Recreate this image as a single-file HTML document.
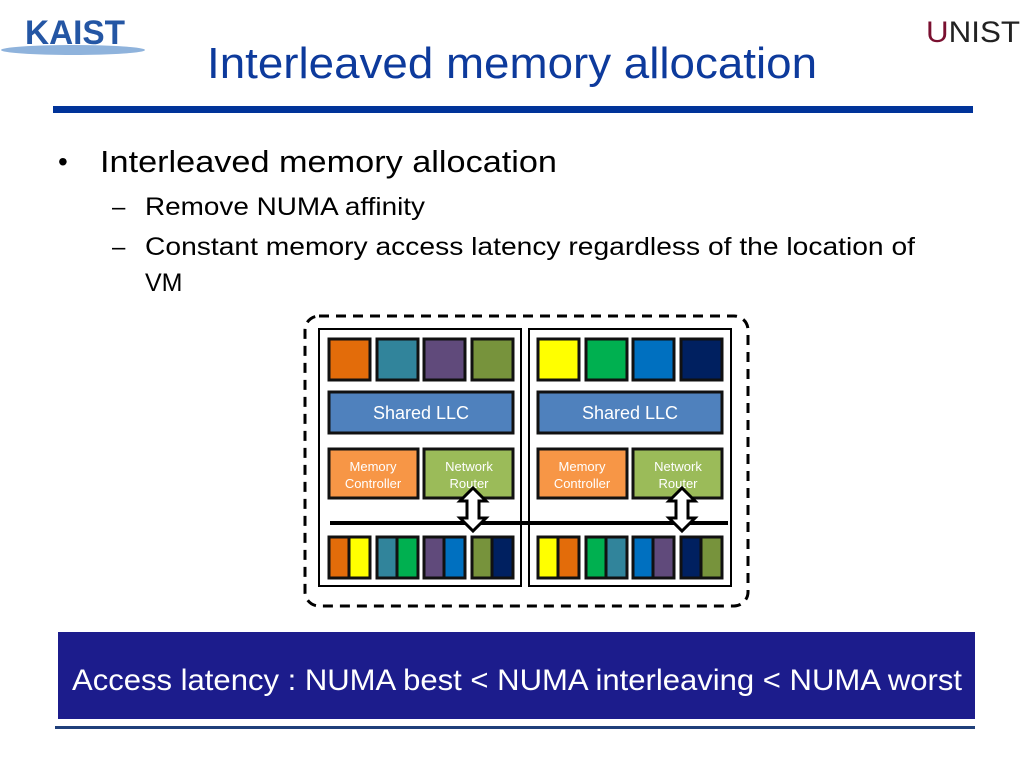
<!DOCTYPE html>
<html><head><meta charset="utf-8"><style>
html,body{margin:0;padding:0;background:#fff;width:1024px;height:768px;overflow:hidden}
svg text{font-family:"Liberation Sans",sans-serif}
</style></head><body>
<svg width="1024" height="768" viewBox="0 0 1024 768" xmlns="http://www.w3.org/2000/svg">
<!-- logos -->
<ellipse cx="73" cy="50" rx="72" ry="5" fill="#8fb3dc"/>
<text x="25" y="44" font-size="34" font-weight="bold" fill="#2456a4" textLength="100" lengthAdjust="spacingAndGlyphs">KAIST</text>
<text x="926" y="42" font-size="30" fill="#222" textLength="94" lengthAdjust="spacingAndGlyphs"><tspan fill="#7a1030">U</tspan>NIST</text>
<!-- title -->
<text x="207" y="78" font-size="44" fill="#0d3a9c" textLength="610" lengthAdjust="spacingAndGlyphs">Interleaved memory allocation</text>
<rect x="53" y="106" width="920" height="7" fill="#003399"/>
<!-- bullets -->
<text x="58" y="171" font-size="28" fill="#000">•</text>
<text x="100" y="172" font-size="31" fill="#000" textLength="457" lengthAdjust="spacingAndGlyphs">Interleaved memory allocation</text>
<text x="112" y="215" font-size="24" fill="#000">–</text>
<text x="145" y="215" font-size="25" fill="#000" textLength="280" lengthAdjust="spacingAndGlyphs">Remove NUMA affinity</text>
<text x="112" y="255" font-size="24" fill="#000">–</text>
<text x="145" y="255" font-size="25" fill="#000" textLength="770" lengthAdjust="spacingAndGlyphs">Constant memory access latency regardless of the location of</text>
<text x="145" y="291" font-size="25" fill="#000">VM</text>
<!-- diagram -->
<rect x="305" y="316" width="443" height="290" rx="14" fill="none" stroke="#000" stroke-width="3" stroke-dasharray="10,7"/>
<rect x="319" y="329" width="202" height="257" fill="#fff" stroke="#000" stroke-width="2"/>
<rect x="529" y="329" width="202" height="257" fill="#fff" stroke="#000" stroke-width="2"/>
<g stroke="#111" stroke-width="3">
<rect x="329" y="339" width="41" height="41" fill="#E36C0A"/>
<rect x="377" y="339" width="41" height="41" fill="#31849B"/>
<rect x="424" y="339" width="41" height="41" fill="#604A7B"/>
<rect x="472" y="339" width="41" height="41" fill="#77933C"/>
<rect x="538" y="339" width="41" height="41" fill="#FFFF00"/>
<rect x="586" y="339" width="41" height="41" fill="#00B050"/>
<rect x="633" y="339" width="41" height="41" fill="#0070C0"/>
<rect x="681" y="339" width="41" height="41" fill="#002060"/>
<rect x="329" y="392" width="184" height="41" fill="#4F81BD"/>
<rect x="538" y="392" width="184" height="41" fill="#4F81BD"/>
<rect x="329" y="449" width="89" height="49" fill="#F79646"/>
<rect x="424" y="449" width="89" height="49" fill="#9BBB59"/>
<rect x="538" y="449" width="89" height="49" fill="#F79646"/>
<rect x="633" y="449" width="89" height="49" fill="#9BBB59"/>
<!-- bottom -->
<rect x="329" y="537" width="20" height="41" fill="#E36C0A"/><rect x="349" y="537" width="21" height="41" fill="#FFFF00"/>
<rect x="377" y="537" width="20" height="41" fill="#31849B"/><rect x="397" y="537" width="21" height="41" fill="#00B050"/>
<rect x="424" y="537" width="20" height="41" fill="#604A7B"/><rect x="444" y="537" width="21" height="41" fill="#0070C0"/>
<rect x="472" y="537" width="20" height="41" fill="#77933C"/><rect x="492" y="537" width="21" height="41" fill="#002060"/>
<rect x="538" y="537" width="20" height="41" fill="#FFFF00"/><rect x="558" y="537" width="21" height="41" fill="#E36C0A"/>
<rect x="586" y="537" width="20" height="41" fill="#00B050"/><rect x="606" y="537" width="21" height="41" fill="#31849B"/>
<rect x="633" y="537" width="20" height="41" fill="#0070C0"/><rect x="653" y="537" width="21" height="41" fill="#604A7B"/>
<rect x="681" y="537" width="20" height="41" fill="#002060"/><rect x="701" y="537" width="21" height="41" fill="#77933C"/>
</g>
<g fill="#fff" text-anchor="middle">
<text x="421" y="419" font-size="18">Shared LLC</text>
<text x="630" y="419" font-size="18">Shared LLC</text>
<text x="373" y="471" font-size="13">Memory</text><text x="373" y="488" font-size="13">Controller</text>
<text x="469" y="471" font-size="13">Network</text><text x="469" y="488" font-size="13">Router</text>
<text x="582" y="471" font-size="13">Memory</text><text x="582" y="488" font-size="13">Controller</text>
<text x="678" y="471" font-size="13">Network</text><text x="678" y="488" font-size="13">Router</text>
</g>
<rect x="330" y="521" width="398" height="4" fill="#000"/>
<g fill="#fff" stroke="#000" stroke-width="3">
<path d="M473,488 L486,501 L479,501 L479,518 L486,518 L473,531 L460,518 L467,518 L467,501 L460,501 Z"/>
<path d="M682,488 L695,501 L688,501 L688,518 L695,518 L682,531 L669,518 L676,518 L676,501 L669,501 Z"/>
</g>
<!-- bottom banner -->
<rect x="58" y="632" width="917" height="87" fill="#1c1c8c"/>
<text x="517" y="690" font-size="30" fill="#fff" text-anchor="middle" textLength="890" lengthAdjust="spacingAndGlyphs">Access latency : NUMA best &lt; NUMA interleaving &lt; NUMA worst</text>
<rect x="55" y="726" width="920" height="3" fill="#1f3f7a"/>
</svg>
</body></html>
